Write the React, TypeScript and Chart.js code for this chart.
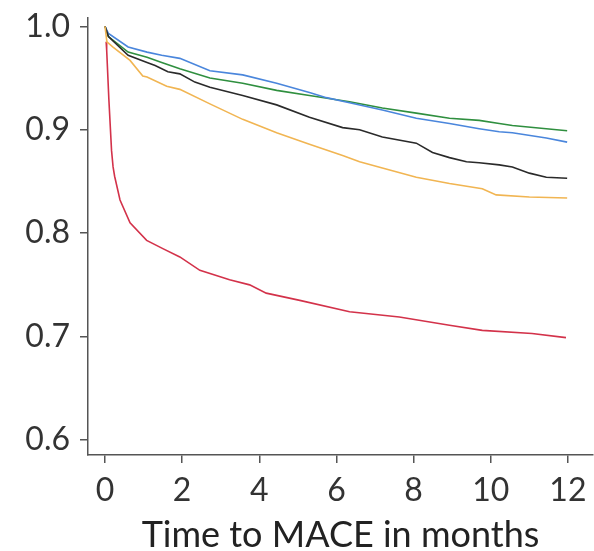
import React, { useEffect, useRef } from "react";
import { Chart, registerables } from "chart.js";

Chart.register(...registerables);

const xTickValues = [0, 2, 4, 6, 8, 10, 12];
const yTickValues = [0.6, 0.7, 0.8, 0.9, 1.0];

const blueMonths = [0, 0.09, 0.6, 1.09, 1.47, 1.94, 2.72, 3.57, 4.45, 5.3, 5.74, 6.34, 7.19, 8.07, 8.93, 9.7, 10.22, 10.56, 11.44, 11.98];
const blueSurv = [1.0, 0.993, 0.98, 0.975, 0.972, 0.969, 0.957, 0.953, 0.945, 0.936, 0.931, 0.926, 0.919, 0.911, 0.906, 0.901, 0.898, 0.897, 0.892, 0.888];

const greenMonths = [0, 0.09, 0.6, 1.09, 1.47, 1.94, 2.72, 3.57, 4.45, 5.3, 6.34, 7.19, 8.07, 8.93, 9.7, 10.22, 10.56, 11.44, 11.98];
const greenSurv = [1.0, 0.99, 0.975, 0.97, 0.965, 0.959, 0.95, 0.945, 0.938, 0.933, 0.927, 0.921, 0.916, 0.911, 0.909, 0.906, 0.904, 0.901, 0.899];

const blackMonths = [0, 0.09, 0.6, 1.09, 1.3, 1.63, 1.94, 2.33, 2.72, 3.57, 4.45, 5.3, 6.16, 6.6, 7.19, 8.07, 8.49, 8.93, 9.37, 9.7, 10.22, 10.56, 11.0, 11.44, 11.98];
const blackSurv = [1.0, 0.99, 0.972, 0.965, 0.962, 0.956, 0.954, 0.946, 0.941, 0.933, 0.924, 0.912, 0.902, 0.9, 0.893, 0.887, 0.878, 0.873, 0.869, 0.868, 0.866, 0.864, 0.858, 0.854, 0.853];

const orangeMonths = [0, 0.05, 0.2, 0.65, 0.98, 1.09, 1.6, 1.94, 2.72, 3.57, 4.45, 5.3, 6.16, 6.6, 7.19, 8.07, 8.93, 9.78, 10.14, 11.0, 11.98];
const orangeSurv = [1.0, 0.985, 0.98, 0.967, 0.952, 0.951, 0.942, 0.939, 0.925, 0.91, 0.897, 0.886, 0.875, 0.869, 0.863, 0.854, 0.848, 0.843, 0.837, 0.835, 0.834];

const redMonths = [0.03, 0.044, 0.1, 0.17, 0.21, 0.25, 0.39, 0.65, 1.08, 1.5, 1.94, 2.46, 3.23, 3.75, 4.18, 5.05, 6.34, 7.63, 8.93, 9.78, 11.07, 11.95];
const redSurv = [0.985, 0.977, 0.93, 0.88, 0.864, 0.855, 0.832, 0.81, 0.793, 0.785, 0.777, 0.764, 0.755, 0.75, 0.742, 0.735, 0.724, 0.719, 0.711, 0.706, 0.703, 0.699];

const pts = (xs: number[], ys: number[]) => xs.map((x, i) => ({ x, y: ys[i] }));

export default function App() {
  const ref = useRef<HTMLCanvasElement>(null);
  useEffect(() => {
    document.body.style.margin = "0";
    const ctx = ref.current!;
    const font = "Lato, 'DejaVu Sans', sans-serif";
    const line = (label: string, data: any, color: string) => ({
      label,
      data,
      borderColor: color,
      backgroundColor: color,
      borderWidth: 1.6,
      pointRadius: 0,
      tension: 0,
      fill: false,
    });
    const chart = new Chart(ctx, {
      type: "line",
      data: {
        datasets: [
          line("orange", pts(orangeMonths, orangeSurv), "#f1b552"),
          line("black", pts(blackMonths, blackSurv), "#2a2a2a"),
          line("blue", pts(blueMonths, blueSurv), "#4a86dc"),
          line("green", pts(greenMonths, greenSurv), "#2f8f3f"),
          line("red", pts(redMonths, redSurv), "#d3324a"),
        ],
      },
      options: {
        animation: false,
        responsive: false,
        maintainAspectRatio: false,
        layout: { padding: { top: 18, right: 1, left: 0, bottom: 0 } },
        plugins: { legend: { display: false }, tooltip: { enabled: false } },
        scales: {
          x: {
            type: "linear",
            min: -0.44,
            max: 12.65,
            afterBuildTicks: (s: any) => {
              s.ticks = xTickValues.map((v) => ({ value: v }));
            },
            afterFit: (s: any) => {
              s.height = 96;
              s.paddingLeft = 0;
              s.paddingRight = 0;
            },
            grid: { drawOnChartArea: false, drawTicks: true, tickLength: 8, color: "#555", lineWidth: 1.5 },
            border: { display: true, color: "#555", width: 1.5 },
            ticks: { color: "#333", font: { family: font, size: 32 }, padding: 8, maxRotation: 0, autoSkip: false },
            title: { display: true, text: "Time to MACE in months", color: "#222", font: { family: font, size: 36 }, padding: { top: 0, bottom: -6 } },
          },
          y: {
            type: "linear",
            min: 0.5855,
            max: 1.008,
            afterBuildTicks: (s: any) => {
              s.ticks = yTickValues.map((v) => ({ value: v }));
            },
            afterFit: (s: any) => {
              s.width = 88;
              s.paddingTop = 0;
              s.paddingBottom = 0;
            },
            grid: { drawOnChartArea: false, drawTicks: true, tickLength: 8, color: "#555", lineWidth: 1.5 },
            border: { display: true, color: "#555", width: 1.5 },
            ticks: {
              color: "#333",
              font: { family: font, size: 32 },
              padding: 10,
              autoSkip: false,
              callback: (v: any) => Number(v).toFixed(1),
            },
          },
        },
      },
    });
    return () => chart.destroy();
  }, []);
  return <canvas ref={ref} width={594} height={551} style={{ display: "block" }} />;
}
